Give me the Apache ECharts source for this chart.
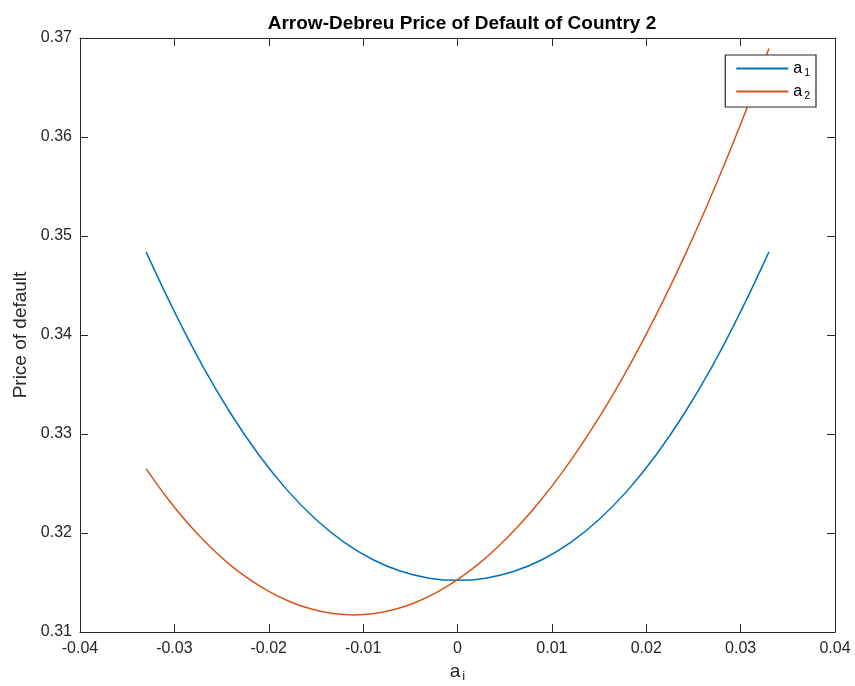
<!DOCTYPE html>
<html>
<head>
<meta charset="utf-8">
<script src="https://cdn.jsdelivr.net/npm/echarts@6/dist/echarts.min.js"></script>
<style>html,body{margin:0;padding:0;background:#fff}#c{width:855px;height:686px}</style>
</head>
<body>
<div id="c"></div>
<script>
const a1X = [-0.033,-0.030,-0.027,-0.024,-0.021,-0.018,-0.015,-0.012,-0.009,-0.006,-0.003,0,0.003,0.006,0.009,0.012,0.015,0.018,0.021,0.024,0.027,0.030,0.033];
const a1Values = [0.34840,0.34236,0.33686,0.33202,0.32783,0.32428,0.32136,0.31905,0.31732,0.31613,0.31544,0.31522,0.31544,0.31613,0.31732,0.31905,0.32136,0.32428,0.32783,0.33202,0.33686,0.34236,0.34840];
const a2X = [-0.0330,-0.0308,-0.0286,-0.0264,-0.0242,-0.0220,-0.0198,-0.0176,-0.0154,-0.0132,-0.0110,-0.0088,-0.0066,-0.0044,-0.0022,0,0.0022,0.0044,0.0066,0.0088,0.0110,0.0132,0.0154,0.0176,0.0198,0.0220,0.0242,0.0264,0.0286,0.0308,0.0330];
const a2Values = [0.32650,0.32358,0.32100,0.31878,0.31686,0.31529,0.31400,0.31301,0.31229,0.31186,0.31172,0.31186,0.31229,0.31301,0.31400,0.31529,0.31686,0.31872,0.32086,0.32329,0.32600,0.32900,0.33228,0.33585,0.33971,0.34385,0.34827,0.35298,0.35798,0.36326,0.36895];
const xTicks = [-0.04,-0.03,-0.02,-0.01,0,0.01,0.02,0.03,0.04];
const yTicks = [0.31,0.32,0.33,0.34,0.35,0.36,0.37];
const seriesNames = ['a1','a2'];
const titleText = 'Arrow-Debreu Price of Default of Country 2';
const yLabel = 'Price of default';

const FONT = "'Liberation Sans', Arial, Helvetica, sans-serif";
const chart = echarts.init(document.getElementById('c'), null, {renderer:'canvas'});
const fmt = v => String(+(+v).toFixed(2));
const axisCommon = {
  axisLine:{show:true, onZero:false, lineStyle:{color:'#262626', width:1}},
  axisTick:{show:true, inside:true, length:8, lineStyle:{color:'#262626', width:1}},
  splitLine:{show:false}
};
const legendRich = {
  a:{fontSize:16, color:'#000', fontFamily:FONT},
  s:{fontSize:10.5, color:'#000', fontFamily:FONT, padding:[9,0,0,2]}
};
const nameRich = {
  a:{fontSize:19, color:'#262626', fontFamily:FONT},
  s:{fontSize:13, color:'#262626', fontFamily:FONT, padding:[11,0,0,2]}
};
chart.setOption({
  animation:false,
  backgroundColor:'#fff',
  title:{text:titleText, left:457, top:9, textAlign:'center',
    textStyle:{fontFamily:FONT, fontSize:19, fontWeight:'bold', color:'#000'}},
  grid:{left:80, right:20, top:38, bottom:54, containLabel:false, outerBoundsMode:'none'},
  legend:{
    orient:'vertical', right:39, top:55, padding:[5.5,6,5.5,10],
    itemWidth:52, itemHeight:14, itemGap:5,
    backgroundColor:'#fff', borderColor:'#262626', borderWidth:1.2,
    itemStyle:{opacity:0},
    data:seriesNames,
    formatter: n => '{a|a}{s|' + n.slice(1) + '}',
    textStyle:{rich:legendRich}
  },
  xAxis:[
    Object.assign({type:'value', min:xTicks[0], max:xTicks[xTicks.length-1], interval:0.01,
      position:'bottom',
      name:'{a|a}{s|i}', nameLocation:'middle', nameGap:25,
      nameTextStyle:{rich:nameRich},
      axisLabel:{formatter:fmt, fontFamily:FONT, fontSize:16, color:'#262626', margin:9}}, axisCommon),
    Object.assign({type:'value', min:xTicks[0], max:xTicks[xTicks.length-1], interval:0.01,
      position:'top', axisLabel:{show:false}}, axisCommon)
  ],
  yAxis:[
    Object.assign({type:'value', min:yTicks[0], max:yTicks[yTicks.length-1], interval:0.01,
      position:'left',
      name:yLabel, nameLocation:'middle', nameGap:41, nameRotate:90,
      nameTextStyle:{fontFamily:FONT, fontSize:19, color:'#262626'},
      axisLabel:{formatter:fmt, fontFamily:FONT, fontSize:16, color:'#262626', margin:8}}, axisCommon),
    Object.assign({type:'value', min:yTicks[0], max:yTicks[yTicks.length-1], interval:0.01,
      position:'right', axisLabel:{show:false}}, axisCommon)
  ],
  series:[
    {name:seriesNames[0], type:'line', symbol:'none', smooth:0.4, clip:true,
      lineStyle:{color:'#0072BD', width:1.5}, itemStyle:{color:'#0072BD'},
      data:a1X.map((x,i)=>[x,a1Values[i]])},
    {name:seriesNames[1], type:'line', symbol:'none', smooth:0.4, clip:true,
      lineStyle:{color:'#D95319', width:1.5}, itemStyle:{color:'#D95319'},
      data:a2X.map((x,i)=>[x,a2Values[i]])}
  ]
});
</script>
</body>
</html>
